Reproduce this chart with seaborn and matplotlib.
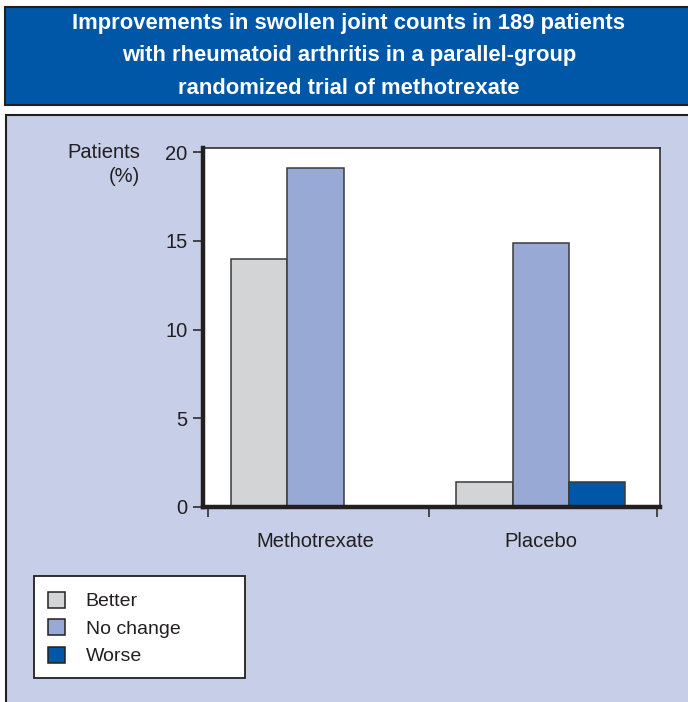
import pandas as pd
import matplotlib.pyplot as plt
import seaborn as sns
from matplotlib.patches import Patch, Rectangle

sns.set_style("white")
plt.rcParams["font.family"] = ["Liberation Sans Narrow", "Liberation Sans", "DejaVu Sans"]

# Data
groups = ["Methotrexate", "Placebo"]
responses = ["Better", "No change", "Worse"]
methotrexate = [14.0, 19.1, 0.0]
placebo = [1.4, 14.9, 1.4]
colors = ["#D3D4D6", "#98A9D6", "#0057A8"]

df = pd.DataFrame({
    "group": [g for g in groups for _ in responses],
    "response": responses * 2,
    "pct": methotrexate + placebo,
})

banner = "#0057A8"
panel = "#C6CEE8"
dark = "#231F20"

fig = plt.figure(figsize=(6.88, 7.02), dpi=100)
fig.patch.set_facecolor("white")

# title banner and light panel behind the chart
fig.patches.append(Rectangle((5 / 688, 1 - 105 / 702), 1.0, 98 / 702,
                             transform=fig.transFigure, facecolor=banner,
                             edgecolor=dark, linewidth=1.5, zorder=-5))
fig.patches.append(Rectangle((6 / 688, -0.02), 1.0, 1 - 115 / 702 + 0.02,
                             transform=fig.transFigure, facecolor=panel,
                             edgecolor=dark, linewidth=1.5, zorder=-5))
fig.text(349 / 688, 1 - 56 / 702,
         "Improvements in swollen joint counts in 189 patients\n"
         "with rheumatoid arthritis in a parallel-group\n"
         "randomized trial of methotrexate",
         ha="center", va="center", color="white", fontsize=15.8,
         fontweight="bold", linespacing=1.74)

ax = fig.add_axes([203 / 688, 1 - 507 / 702, 457 / 688, 359 / 702])
ax.set_zorder(2)
ax.set_facecolor("white")
sns.barplot(data=df, x="group", y="pct", hue="response", order=groups,
            hue_order=responses, palette=colors, saturation=1, width=0.75,
            edgecolor="#3a3a3a", linewidth=1.1, ax=ax, legend=False)

ax.set_ylim(0, 20.23)
ax.set_xlim(-0.5, 1.53)
ax.set_yticks([0, 5, 10, 15, 20])
ax.tick_params(axis="y", left=True, length=7, width=1.1, color=dark,
               labelsize=14.5, labelcolor=dark, pad=4)
ax.set_xticks([0, 1])
ax.set_xticks([-0.48, 0.505, 1.515], minor=True)
ax.tick_params(axis="x", which="major", length=0, labelsize=14.5,
               labelcolor=dark, pad=18)
ax.tick_params(axis="x", which="minor", bottom=True, length=7, width=1.1,
               color=dark)
ax.set_xlabel("")
ax.set_ylabel("")

for side in ["left", "bottom"]:
    ax.spines[side].set_linewidth(3.2)
    ax.spines[side].set_color(dark)
for side in ["top", "right"]:
    ax.spines[side].set_linewidth(1.1)
    ax.spines[side].set_color(dark)

fig.text(140 / 688, 1 - 143 / 702, "Patients\n(%)", ha="right", va="top",
         multialignment="right", fontsize=14.5, color=dark, linespacing=1.3)

# legend in its own white box
fig.patches.append(Rectangle((34 / 688, 1 - 678 / 702), 211 / 688, 102 / 702,
                             transform=fig.transFigure, facecolor="white",
                             edgecolor=dark, linewidth=1.3, zorder=-1))
handles = [Patch(facecolor=c, edgecolor=dark, linewidth=1.1) for c in colors]
leg = fig.legend(handles, responses, loc="upper left",
                 bbox_to_anchor=(34 / 688, 1 - 578 / 702), frameon=False,
                 fontsize=14, handlelength=0.9, handleheight=0.9,
                 handletextpad=1.05, labelspacing=0.45, borderpad=0.2)
for t in leg.get_texts():
    t.set_color(dark)

plt.savefig("out.png", dpi=100)
